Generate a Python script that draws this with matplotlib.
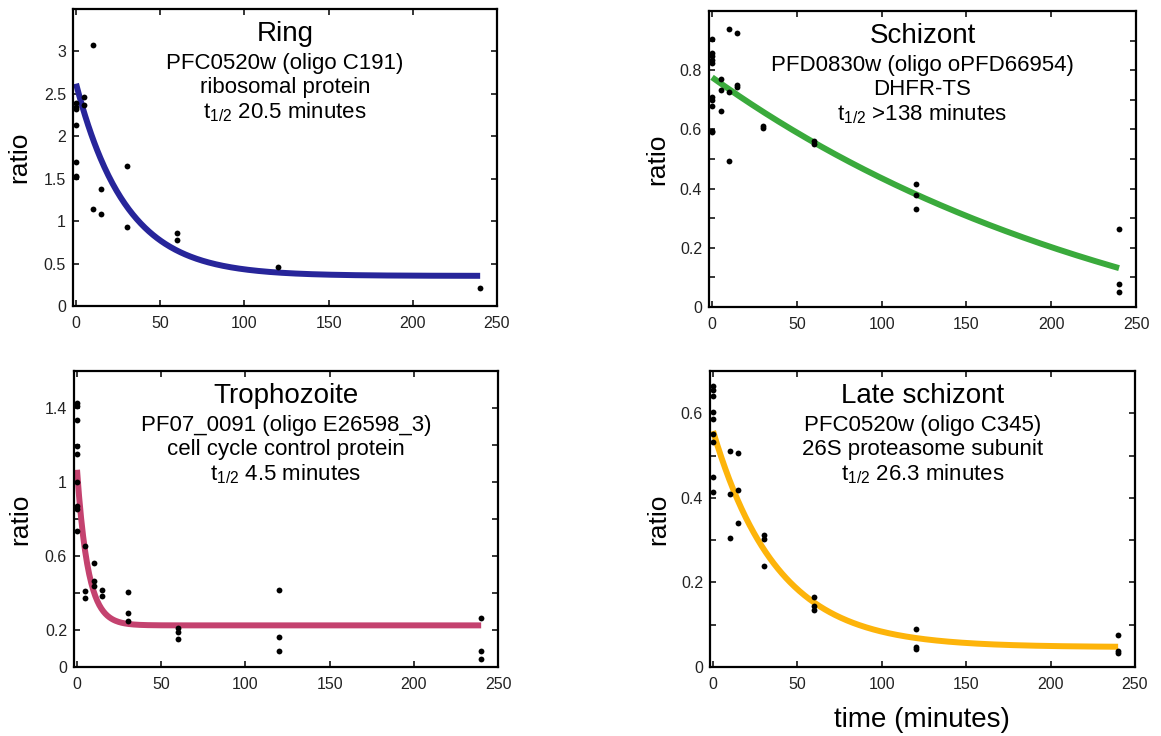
import numpy as np
import matplotlib
matplotlib.use("Agg")
import matplotlib.pyplot as plt
from matplotlib.ticker import FixedLocator, FixedFormatter

plt.rcParams['font.family'] = ['Liberation Sans', 'DejaVu Sans']
plt.rcParams['mathtext.fontset'] = 'custom'
plt.rcParams['mathtext.rm'] = 'Liberation Sans'

# ---------------- data ----------------
ring_t = [0, 0, 0, 0, 0, 0, 0, 5, 5, 10, 10, 15, 15, 30, 30, 60, 60, 120, 240]
ring_y = [2.39, 2.35, 2.32, 2.13, 1.70, 1.53, 1.52, 2.46, 2.37, 3.08, 1.14,
          1.38, 1.085, 1.655, 0.93, 0.865, 0.78, 0.465, 0.216]
ring_fit = dict(y0=2.62, plateau=0.355, half_life=20.5)

schiz_t = [0, 0, 0, 0, 0, 0, 0, 0, 0, 0, 5, 5, 5, 10, 10, 10, 15, 15, 15,
           30, 30, 60, 60, 120, 120, 120, 240, 240, 240]
schiz_y = [0.905, 0.858, 0.847, 0.835, 0.825, 0.711, 0.70, 0.68, 0.595, 0.59,
           0.77, 0.734, 0.661, 0.94, 0.725, 0.492, 0.925, 0.751, 0.743,
           0.61, 0.605, 0.561, 0.55, 0.417, 0.38, 0.331, 0.264, 0.079, 0.049]
schiz_fit = dict(y0=0.776, plateau=-0.30, half_life=182.0)

troph_t = [0, 0, 0, 0, 0, 0, 0, 0, 0, 5, 5, 5, 10, 10, 10, 15, 15,
           30, 30, 30, 60, 60, 60, 120, 120, 120, 240, 240, 240]
troph_y = [1.427, 1.409, 1.337, 1.196, 1.153, 1.0, 0.868, 0.856, 0.733,
           0.652, 0.409, 0.373, 0.562, 0.466, 0.44, 0.418, 0.382,
           0.404, 0.292, 0.248, 0.209, 0.189, 0.153, 0.414, 0.16, 0.088,
           0.265, 0.088, 0.045]
troph_fit = dict(y0=1.066, plateau=0.225, half_life=4.5)

late_t = [0, 0, 0, 0, 0, 0, 0, 0, 0, 10, 10, 10, 15, 15, 15, 30, 30, 30,
          60, 60, 60, 120, 120, 120, 240, 240, 240]
late_y = [0.664, 0.656, 0.641, 0.604, 0.586, 0.551, 0.531, 0.45, 0.413,
          0.511, 0.409, 0.305, 0.507, 0.419, 0.34, 0.311, 0.303, 0.239,
          0.165, 0.144, 0.135, 0.089, 0.048, 0.042, 0.076, 0.039, 0.033]
late_fit = dict(y0=0.558, plateau=0.047, half_life=26.3)

titles = ["Ring", "Schizont", "Trophozoite", "Late schizont"]
subtitles = [
    ["PFC0520w (oligo C191)", "ribosomal protein", r"$\mathregular{t_{1/2}}$ 20.5 minutes"],
    ["PFD0830w (oligo oPFD66954)", "DHFR-TS", r"$\mathregular{t_{1/2}}$ >138 minutes"],
    ["PF07_0091 (oligo E26598_3)", "cell cycle control protein", r"$\mathregular{t_{1/2}}$ 4.5 minutes"],
    ["PFC0520w (oligo C345)", "26S proteasome subunit", r"$\mathregular{t_{1/2}}$ 26.3 minutes"],
]
x_ticks = [0, 50, 100, 150, 200, 250]
y_ticks_all = [
    [0, 0.5, 1, 1.5, 2, 2.5, 3],
    [0, 0.1, 0.2, 0.3, 0.4, 0.5, 0.6, 0.7, 0.8, 0.9],
    [0, 0.2, 0.4, 0.6, 0.8, 1.0, 1.2, 1.4],
    [0, 0.1, 0.2, 0.3, 0.4, 0.5, 0.6],
]
y_labels_all = [
    ["0", "0.5", "1", "1.5", "2", "2.5", "3"],
    ["0", "", "0.2", "", "0.4", "", "0.6", "", "0.8", ""],
    ["0", "0.2", "", "0.6", "", "1", "", "1.4"],
    ["0", "", "0.2", "", "0.4", "", "0.6"],
]
y_max = [3.5, 1.0, 1.6, 0.7]

# ---------------- layout ----------------
W, H = 1161, 736
fig = plt.figure(figsize=(W / 100, H / 100), dpi=100)

boxes_px = [(73, 9, 497, 306), (709, 11, 1136, 307),
            (74, 371, 498, 667), (710, 371, 1135, 667)]
colors = ["#27259a", "#3aaa3c", "#c4426f", "#fdb40a"]
ylabel_x = [19, 657, 20, 658]

panels = [(ring_t, ring_y, ring_fit), (schiz_t, schiz_y, schiz_fit),
          (troph_t, troph_y, troph_fit), (late_t, late_y, late_fit)]

for i, (tt, yy, fit) in enumerate(panels):
    x0, y0, x1, y1 = boxes_px[i]
    ax = fig.add_axes([x0 / W, 1 - y1 / H, (x1 - x0) / W, (y1 - y0) / H])
    tc = np.linspace(0, 240, 400)
    k = np.log(2) / fit['half_life']
    yc = fit['plateau'] + (fit['y0'] - fit['plateau']) * np.exp(-k * tc)
    ax.plot(tc, yc, color=colors[i], lw=4.3, solid_capstyle='butt', zorder=2)
    ax.plot(tt, yy, 'o', color='black', ms=4.2, mec='none', zorder=3)
    ax.set_xlim(-1.8, 250)
    ax.set_ylim(0, y_max[i])
    ax.xaxis.set_major_locator(FixedLocator(x_ticks))
    ax.set_xticklabels([str(v) for v in x_ticks])
    ax.yaxis.set_major_locator(FixedLocator(y_ticks_all[i]))
    ax.yaxis.set_major_formatter(FixedFormatter(y_labels_all[i]))
    ax.tick_params(direction='in', length=4, width=1.1, top=True, right=True,
                   labelsize=11.5, labelcolor='#222222')
    ax.tick_params(axis='x', pad=7)
    ax.tick_params(axis='y', pad=5)
    for sp in ax.spines.values():
        sp.set_linewidth(1.6)
    ax.text(0.5, 0.915, titles[i], transform=ax.transAxes, ha='center',
            va='center', fontsize=20)
    for j, (line, yp) in enumerate(zip(subtitles[i], [0.816, 0.736, 0.652])):
        ax.text(0.5, yp, line, transform=ax.transAxes, ha='center',
                va='center', fontsize=16)
    yc_px = (y0 + y1) / 2
    fig.text(ylabel_x[i] / W, 1 - yc_px / H, "ratio", rotation=90,
             ha='center', va='center', fontsize=19)

fig.text(922 / W, 1 - 720 / H, "time (minutes)", ha='center', va='center',
         fontsize=20)

fig.savefig("out.png", dpi=100)
